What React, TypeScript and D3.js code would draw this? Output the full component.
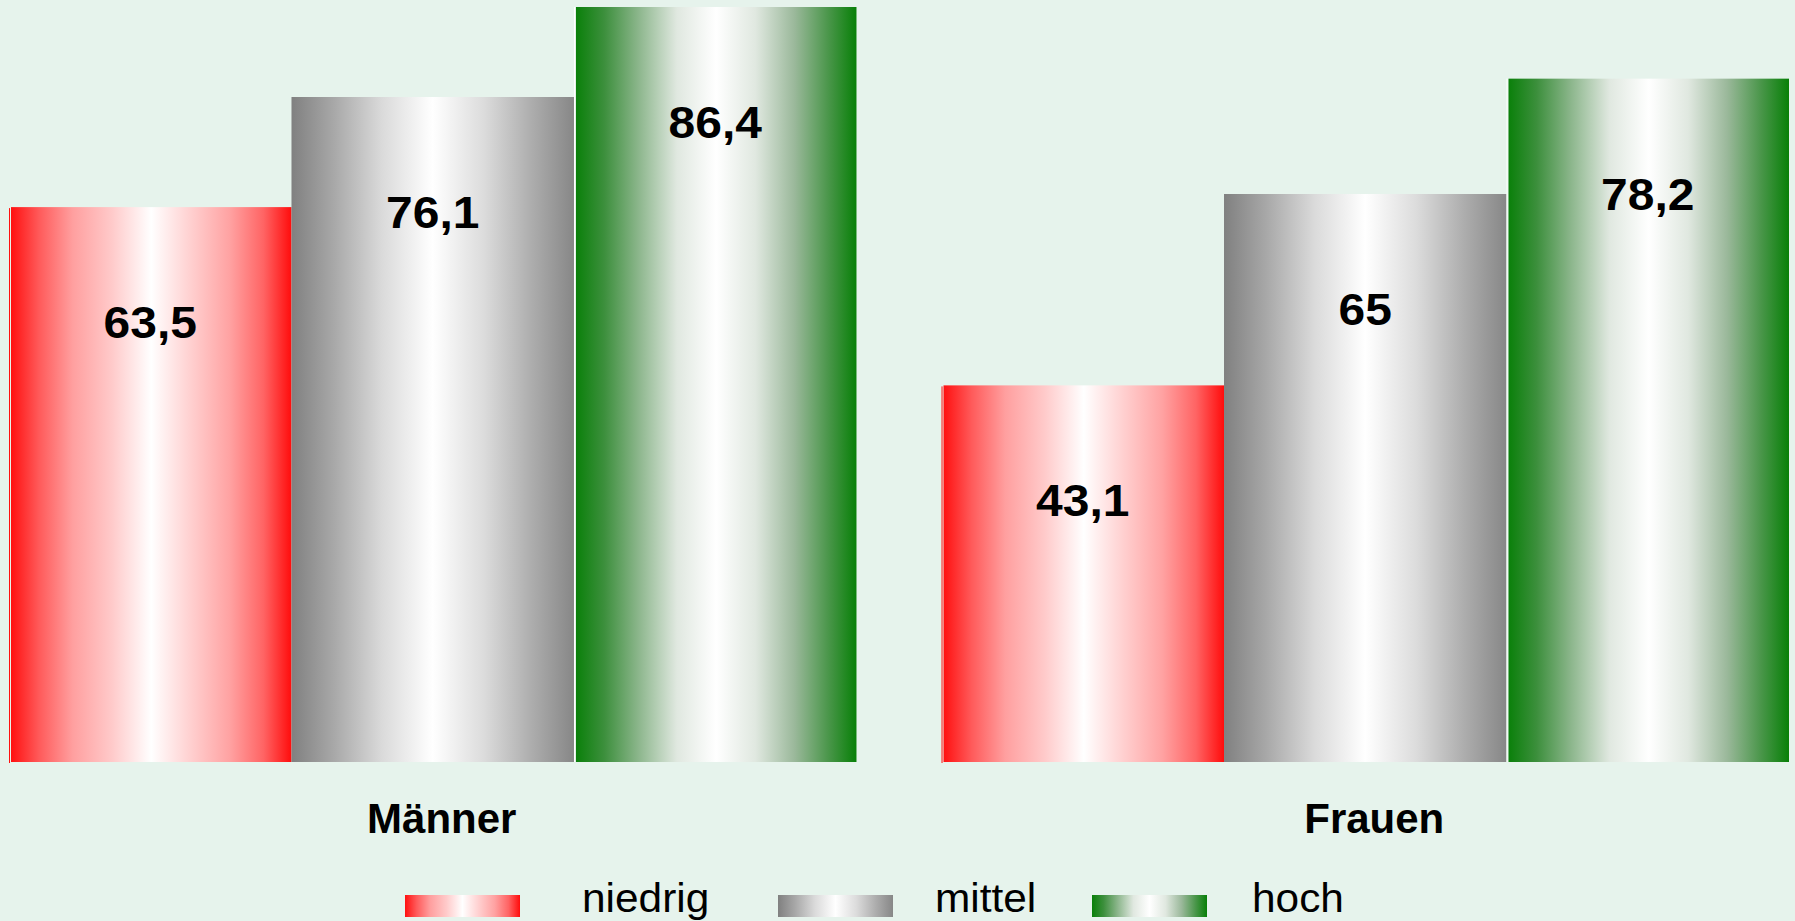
import React from "react";
import * as d3 from "d3";

const categories = ["Männer", "Frauen"];
const seriesNames = ["niedrig", "mittel", "hoch"];
const niedrig = [63.5, 43.1];
const mittel = [76.1, 65];
const hoch = [86.4, 78.2];
const seriesValues = [niedrig, mittel, hoch];
const valueLabels = [["63,5", "43,1"], ["76,1", "65"], ["86,4", "78,2"]];

const W = 1795;
const H = 921;
const FONT = "'Liberation Sans', Arial, Helvetica, sans-serif";

const gradients: { id: string; stops: [number, string][] }[] = [
  {
    id: "g-red",
    stops: [
      [0, "#ff1010"], [0.1, "#ff5a5a"], [0.22, "#ff9f9f"], [0.36, "#ffcaca"],
      [0.5, "#ffffff"], [0.64, "#ffd0d0"], [0.78, "#ffa2a2"], [0.9, "#ff6464"], [1, "#ff0c0c"],
    ],
  },
  {
    id: "g-gray",
    stops: [
      [0, "#808080"], [0.15, "#a8a8a8"], [0.32, "#dadada"], [0.5, "#ffffff"],
      [0.68, "#dcdcdc"], [0.85, "#adadad"], [1, "#878787"],
    ],
  },
  {
    id: "g-green",
    stops: [
      [0, "#0a800a"], [0.1, "#3c8f3c"], [0.22, "#8ab58a"], [0.36, "#e0e8e0"],
      [0.5, "#ffffff"], [0.64, "#e0e8e0"], [0.78, "#9ab89a"], [0.9, "#4a964a"], [1, "#088008"],
    ],
  },
];
const edgeColors = ["#ff1010", null, "#ffffff"];

export default function App() {
  const x0 = d3.scaleBand<string>().domain(categories).range([9, 1789]).paddingInner(0.0912).paddingOuter(0);
  const x1 = d3.scaleBand<string>().domain(seriesNames).range([0, x0.bandwidth()]).padding(0);
  const y = d3.scaleLinear().domain([0, 86.4]).range([762, 7]);

  const legendLayout = [
    { sx: 405, tx: 582 },
    { sx: 778, tx: 935 },
    { sx: 1092, tx: 1252 },
  ];

  return (
    <svg
      width={W}
      height={H}
      style={{ position: "absolute", left: 0, top: 0, display: "block" }}
      fontFamily={FONT}
    >
      <defs>
        {gradients.map((g) => (
          <linearGradient key={g.id} id={g.id} x1="0" x2="1" y1="0" y2="0">
            {g.stops.map(([o, c], i) => (
              <stop key={i} offset={o} stopColor={c} />
            ))}
          </linearGradient>
        ))}
      </defs>
      <rect x={0} y={0} width={W} height={H} fill="#e6f3ec" />
      {categories.map((cat, ci) => (
        <g key={cat}>
          {seriesNames.map((s, si) => {
            const v = seriesValues[si][ci];
            const bx = (x0(cat) as number) + (x1(s) as number);
            const bw = x1.bandwidth();
            const top = y(v);
            const h = y(0) - top;
            const edge = edgeColors[si];
            const inset = edge ? 2 : 0;
            return (
              <g key={s}>
                <rect x={bx + inset} y={top} width={bw - inset} height={h} fill={`url(#${gradients[si].id})`} />
                {edge && (
                  <rect x={bx} y={top + (si === 0 ? 1 : 0)} width={1} height={h} fill={edge} />
                )}
                <text
                  transform={`translate(${bx + bw / 2},${top + 131}) scale(1.09,1)`}
                  textAnchor="middle"
                  fontSize={44}
                  fontWeight="bold"
                  fill="#000"
                >
                  {valueLabels[si][ci]}
                </text>
              </g>
            );
          })}
          <text
            x={(x0(cat) as number) + x0.bandwidth() / 2 + 9}
            y={833}
            textAnchor="middle"
            fontSize={42}
            fontWeight="bold"
            fill="#000"
          >
            {cat}
          </text>
        </g>
      ))}
      {seriesNames.map((s, si) => (
        <g key={s}>
          <rect x={legendLayout[si].sx} y={895} width={115} height={22} fill={`url(#${gradients[si].id})`} />
          <text
            transform={`translate(${legendLayout[si].tx},912) scale(1.06,1)`}
            fontSize={40}
            fill="#000"
          >
            {s}
          </text>
        </g>
      ))}
    </svg>
  );
}
